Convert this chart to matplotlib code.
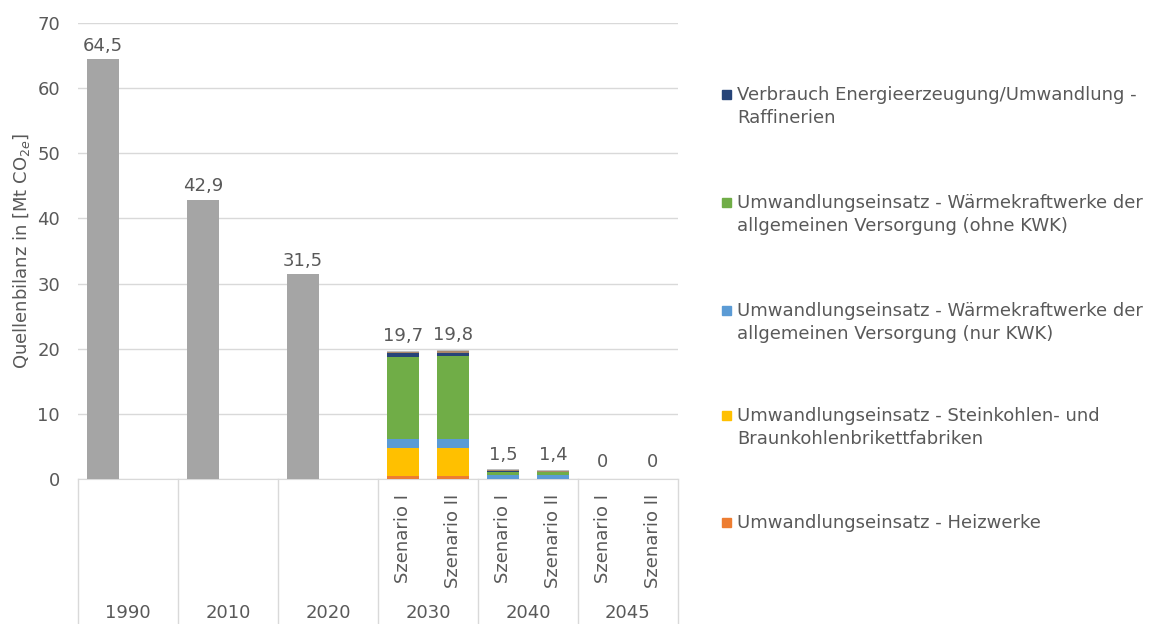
import matplotlib
matplotlib.use("Agg")
import matplotlib.pyplot as plt
from matplotlib.patches import Rectangle
from matplotlib.transforms import blended_transform_factory
import numpy as np

plt.rcParams['font.family'] = ['DejaVu Sans']

years = ["1990", "2010", "2020", "2030", "2040", "2045"]
scenario_labels = ["Szenario I", "Szenario II"]

# historical totals (slot 0 of groups 1990, 2010, 2020)
hist_values = [64.5, 42.9, 31.5]

# scenario bars: 2030 I, 2030 II, 2040 I, 2040 II, 2045 I, 2045 II
heizwerke   = [0.5, 0.5, 0.0, 0.0, 0.0, 0.0]
brikett     = [4.2, 4.2, 0.05, 0.05, 0.0, 0.0]
kwk         = [1.4, 1.4, 0.6, 0.55, 0.0, 0.0]
ohne_kwk    = [12.7, 12.8, 0.45, 0.4, 0.0, 0.0]
raffinerien = [0.5, 0.5, 0.15, 0.15, 0.0, 0.0]
sonstige_a  = [0.2, 0.2, 0.15, 0.15, 0.0, 0.0]
sonstige_b  = [0.2, 0.2, 0.1, 0.1, 0.0, 0.0]

legend_labels = [
    "Verbrauch Energieerzeugung/Umwandlung -\nRaffinerien",
    "Umwandlungseinsatz - Wärmekraftwerke der\nallgemeinen Versorgung (ohne KWK)",
    "Umwandlungseinsatz - Wärmekraftwerke der\nallgemeinen Versorgung (nur KWK)",
    "Umwandlungseinsatz - Steinkohlen- und\nBraunkohlenbrikettfabriken",
    "Umwandlungseinsatz - Heizwerke",
]

c_gray = "#A5A5A5"
c_orange = "#ED7D31"
c_yellow = "#FFC000"
c_blue = "#5B9BD5"
c_green = "#70AD47"
c_dblue = "#264478"
c_sa = "#A9876A"
c_sb = "#BFBFBF"
txt = "#595959"

fig = plt.figure(figsize=(11.6, 6.24), dpi=100)
ax = fig.add_axes([78/1160, 1-479/624, 600/1160, 456/624])

fs = 13
bw = 0.64
hist_x = np.array([0, 2, 4])
scen_x = np.array([6, 7, 8, 9, 10, 11])

ax.bar(hist_x, hist_values, width=bw, color=c_gray, zorder=3)
for x, v in zip(hist_x, hist_values):
    ax.annotate(f"{v:.1f}".replace(".", ","), (x, v), xytext=(0, 3), textcoords="offset points",
                ha="center", va="bottom", fontsize=fs, color=txt)

stack = [(heizwerke, c_orange), (brikett, c_yellow), (kwk, c_blue), (ohne_kwk, c_green),
         (raffinerien, c_dblue), (sonstige_a, c_sa), (sonstige_b, c_sb)]
bottom = np.zeros(len(scen_x))
for vals, col in stack:
    vals = np.array(vals)
    ax.bar(scen_x, vals, width=bw, bottom=bottom, color=col, zorder=3)
    bottom = bottom + vals
for x, v in zip(scen_x, bottom):
    lab = "0" if round(v, 1) == 0 else f"{v:.1f}".replace(".", ",")
    ax.annotate(lab, (x, v), xytext=(0, 6 if round(v, 1) == 0 else 4), textcoords="offset points",
                ha="center", va="bottom", fontsize=fs, color=txt)

ax.set_xlim(-0.5, 11.5)
ax.set_ylim(0, 70)
ax.set_yticks(np.arange(0, 71, 10))
ax.tick_params(axis="y", length=0, labelsize=fs, labelcolor=txt, pad=13)
ax.set_xticks([])
ax.grid(axis="y", color="#D9D9D9", linewidth=1, zorder=0)
for s in ["top", "right", "left"]:
    ax.spines[s].set_visible(False)
ax.spines["bottom"].set_color("#D9D9D9")
ax.set_ylabel("Quellenbilanz in [Mt CO$_{2e}$]", fontsize=fs, color=txt, labelpad=4)

# multi-level category axis
tr = blended_transform_factory(ax.transData, fig.transFigure)
for i in range(len(years) + 1):
    xb = -0.5 + 2 * i
    ax.plot([xb, xb], [1 - 479/624, 0], transform=tr, color="#D9D9D9", lw=1, clip_on=False)
for gi, yr in enumerate(years):
    ax.text(2 * gi + 0.5, 1 - 613/624, yr, transform=tr, ha="center", va="center",
            fontsize=fs, color=txt)
for x in scen_x:
    ax.text(x, 1 - 494/624, scenario_labels[(x - 6) % 2], transform=tr, rotation=90,
            ha="center", va="top", fontsize=fs, color=txt)

# legend
leg_colors = [c_dblue, c_green, c_blue, c_yellow, c_orange]
leg_cap_top = [87, 195, 303, 408, 515]
for col, lab, yp in zip(leg_colors, legend_labels, leg_cap_top):
    fig.patches.append(Rectangle((722/1160, 1 - (yp + 12)/624), 9/1160, 9/624,
                                 transform=fig.transFigure, color=col, figure=fig))
    fig.text(737/1160, 1 - (yp - 1)/624, lab, ha="left", va="top", fontsize=fs,
             color=txt, linespacing=1.33)

fig.savefig("out.png", dpi=100)
